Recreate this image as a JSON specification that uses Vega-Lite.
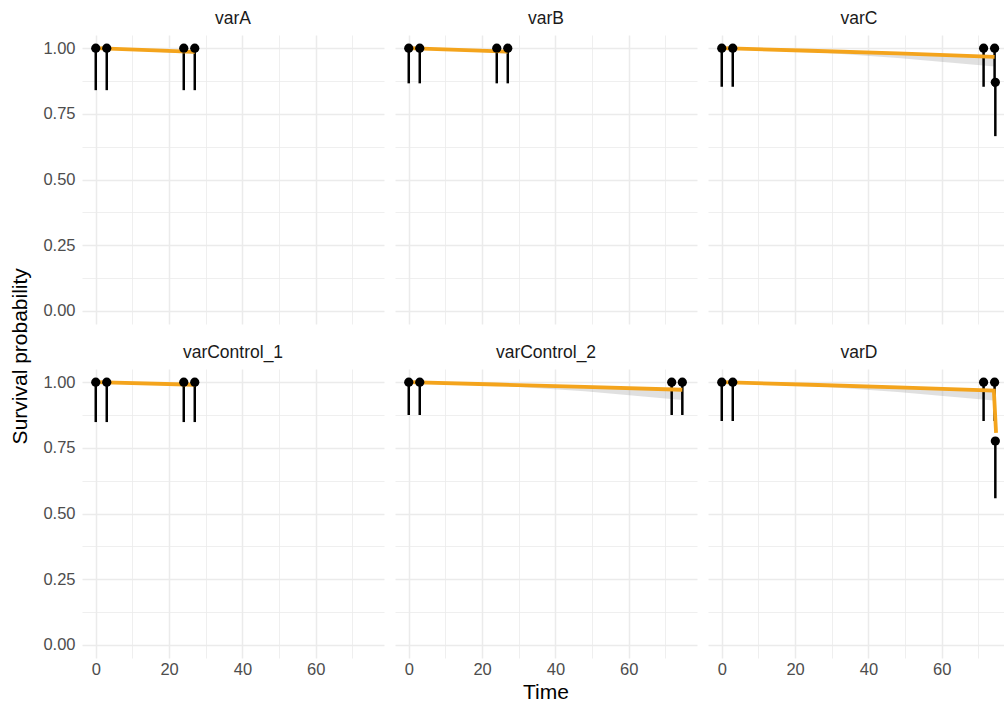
{
  "$schema": "https://vega.github.io/schema/vega-lite/v6.json",
  "background": "white",
  "padding": {"left": 9, "top": 9, "right": -6, "bottom": 0},
  "title": {
    "text": "Survival probability",
    "orient": "left",
    "anchor": "middle",
    "font": "Liberation Sans",
    "fontSize": 21,
    "fontWeight": "normal",
    "color": "#000000",
    "offset": 12
  },
  "data": {
    "values": [
      {"kind": "pt", "panel": "varA", "time": 0, "surv": 1, "lower": 0.84},
      {"kind": "pt", "panel": "varA", "time": 3, "surv": 1, "lower": 0.84},
      {"kind": "pt", "panel": "varA", "time": 24, "surv": 1, "lower": 0.84},
      {"kind": "pt", "panel": "varA", "time": 27, "surv": 1, "lower": 0.84},
      {"kind": "fit", "panel": "varA", "time": 0, "fit": 1, "lo": 1},
      {"kind": "fit", "panel": "varA", "time": 27, "fit": 0.986, "lo": 0.978},

      {"kind": "pt", "panel": "varB", "time": 0, "surv": 1, "lower": 0.866},
      {"kind": "pt", "panel": "varB", "time": 3, "surv": 1, "lower": 0.866},
      {"kind": "pt", "panel": "varB", "time": 24, "surv": 1, "lower": 0.866},
      {"kind": "pt", "panel": "varB", "time": 27, "surv": 1, "lower": 0.866},
      {"kind": "fit", "panel": "varB", "time": 0, "fit": 1, "lo": 1},
      {"kind": "fit", "panel": "varB", "time": 27, "fit": 0.987, "lo": 0.98},

      {"kind": "pt", "panel": "varC", "time": 0, "surv": 1, "lower": 0.853},
      {"kind": "pt", "panel": "varC", "time": 3, "surv": 1, "lower": 0.853},
      {"kind": "pt", "panel": "varC", "time": 71.4, "surv": 1, "lower": 0.853},
      {"kind": "pt", "panel": "varC", "time": 74.4, "surv": 1, "lower": 0.853},
      {"kind": "pt", "panel": "varC", "time": 74.6, "surv": 0.87, "lower": 0.665},
      {"kind": "fit", "panel": "varC", "time": 0, "fit": 1, "lo": 1},
      {"kind": "fit", "panel": "varC", "time": 24, "fit": 0.99, "lo": 0.986},
      {"kind": "fit", "panel": "varC", "time": 48, "fit": 0.98, "lo": 0.962},
      {"kind": "fit", "panel": "varC", "time": 74.4, "fit": 0.967, "lo": 0.93},

      {"kind": "pt", "panel": "varControl_1", "time": 0, "surv": 1, "lower": 0.848},
      {"kind": "pt", "panel": "varControl_1", "time": 3, "surv": 1, "lower": 0.848},
      {"kind": "pt", "panel": "varControl_1", "time": 24, "surv": 1, "lower": 0.848},
      {"kind": "pt", "panel": "varControl_1", "time": 27, "surv": 1, "lower": 0.848},
      {"kind": "fit", "panel": "varControl_1", "time": 0, "fit": 1, "lo": 1},
      {"kind": "fit", "panel": "varControl_1", "time": 27, "fit": 0.99, "lo": 0.983},

      {"kind": "pt", "panel": "varControl_2", "time": 0, "surv": 1, "lower": 0.875},
      {"kind": "pt", "panel": "varControl_2", "time": 3, "surv": 1, "lower": 0.875},
      {"kind": "pt", "panel": "varControl_2", "time": 71.7, "surv": 1, "lower": 0.875},
      {"kind": "pt", "panel": "varControl_2", "time": 74.6, "surv": 1, "lower": 0.875},
      {"kind": "fit", "panel": "varControl_2", "time": 0, "fit": 1, "lo": 1},
      {"kind": "fit", "panel": "varControl_2", "time": 24, "fit": 0.991, "lo": 0.987},
      {"kind": "fit", "panel": "varControl_2", "time": 48, "fit": 0.982, "lo": 0.965},
      {"kind": "fit", "panel": "varControl_2", "time": 74.6, "fit": 0.971, "lo": 0.932},

      {"kind": "pt", "panel": "varD", "time": 0, "surv": 1, "lower": 0.852},
      {"kind": "pt", "panel": "varD", "time": 3, "surv": 1, "lower": 0.852},
      {"kind": "pt", "panel": "varD", "time": 71.4, "surv": 1, "lower": 0.852},
      {"kind": "pt", "panel": "varD", "time": 74.4, "surv": 1, "lower": 0.852},
      {"kind": "pt", "panel": "varD", "time": 74.6, "surv": 0.776, "lower": 0.558},
      {"kind": "fit", "panel": "varD", "time": 0, "fit": 1, "lo": 1},
      {"kind": "fit", "panel": "varD", "time": 24, "fit": 0.99, "lo": 0.986},
      {"kind": "fit", "panel": "varD", "time": 48, "fit": 0.98, "lo": 0.962},
      {"kind": "fit", "panel": "varD", "time": 74.2, "fit": 0.968, "lo": 0.93},
      {"kind": "fit", "panel": "varD", "time": 74.8, "fit": 0.807, "lo": 0.807}
    ]
  },
  "facet": {
    "field": "panel",
    "type": "nominal",
    "sort": ["varA", "varB", "varC", "varControl_1", "varControl_2", "varD"],
    "header": {
      "title": "Time",
      "titleOrient": "bottom",
      "titleFont": "Liberation Sans",
      "titleFontSize": 21,
      "titleFontWeight": "normal",
      "titleColor": "#000000",
      "titlePadding": 4,
      "labelOrient": "top",
      "labelFont": "Liberation Sans",
      "labelFontSize": 17.5,
      "labelColor": "#1A1A1A",
      "labelPadding": 8
    }
  },
  "columns": 3,
  "spacing": {"row": 19, "column": 11},
  "spec": {
    "width": 302,
    "height": 289,
    "layer": [
      {
        "transform": [{"filter": "datum.kind === 'fit'"}],
        "mark": {"type": "area", "color": "#999999", "opacity": 0.3},
        "encoding": {
          "x": {"field": "time", "type": "quantitative", "title": null,
                "scale": {"domain": [-3.75, 78.6], "nice": false, "zero": false},
                "axis": {
                  "values": [0, 10, 20, 30, 40, 50, 60, 70],
                  "tickCount": 20,
                  "labelExpr": "datum.value % 20 === 0 ? datum.label : ''",
                  "gridWidth": {"condition": {"test": "datum.value % 20 === 0", "value": 1.5}, "value": 0.8}
                }},
          "y": {"field": "lo", "type": "quantitative", "title": null,
                "scale": {"domain": [-0.05, 1.05], "nice": false, "zero": false},
                "axis": {
                  "values": [0, 0.125, 0.25, 0.375, 0.5, 0.625, 0.75, 0.875, 1],
                  "tickCount": 20,
                  "labelExpr": "(datum.value === 0 || datum.value === 0.25 || datum.value === 0.5 || datum.value === 0.75 || datum.value === 1) ? format(datum.value, '.2f') : ''",
                  "gridWidth": {"condition": {"test": "datum.value === 0 || datum.value === 0.25 || datum.value === 0.5 || datum.value === 0.75 || datum.value === 1", "value": 1.5}, "value": 0.8}
                }},
          "y2": {"field": "fit"}
        }
      },
      {
        "transform": [{"filter": "datum.kind === 'pt'"}],
        "mark": {"type": "rule", "color": "black", "strokeWidth": 2.5},
        "encoding": {
          "x": {"field": "time", "type": "quantitative", "title": null},
          "y": {"field": "surv", "type": "quantitative", "title": null},
          "y2": {"field": "lower"}
        }
      },
      {
        "transform": [{"filter": "datum.kind === 'fit'"}],
        "mark": {"type": "line", "color": "#F4A41C", "strokeWidth": 3.8},
        "encoding": {
          "x": {"field": "time", "type": "quantitative", "title": null},
          "y": {"field": "fit", "type": "quantitative", "title": null}
        }
      },
      {
        "transform": [{"filter": "datum.kind === 'pt'"}],
        "mark": {"type": "point", "filled": true, "color": "black", "opacity": 1, "size": 85},
        "encoding": {
          "x": {"field": "time", "type": "quantitative", "title": null},
          "y": {"field": "surv", "type": "quantitative", "title": null}
        }
      }
    ]
  },
  "resolve": {"scale": {"x": "shared", "y": "shared"}},
  "config": {
    "view": {"stroke": null},
    "axis": {
      "domain": false,
      "ticks": false,
      "labelFont": "Liberation Sans",
      "labelFontSize": 16.5,
      "labelColor": "#4D4D4D",
      "labelPadding": 7,
      "labelOverlap": false,
      "gridColor": "#EBEBEB"
    },
    "axisX": {
      "labelPadding": 3
    }
  }
}
